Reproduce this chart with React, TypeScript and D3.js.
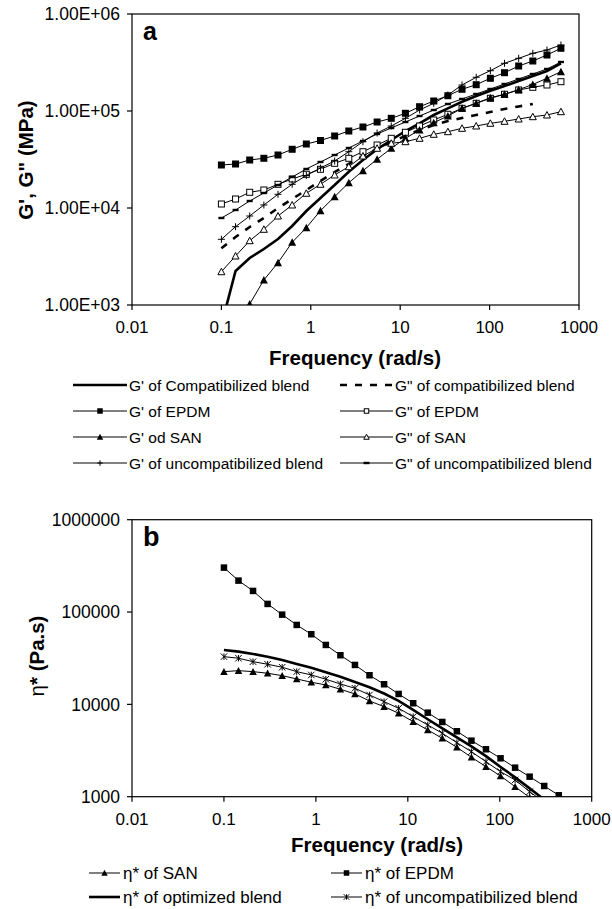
import React from "react";
import * as d3 from "d3";

// ---------- data ----------
const FREQ = [0.1, 0.144, 0.2073, 0.2985, 0.4298, 0.6189, 0.8912, 1.283, 1.848, 2.661, 3.831, 5.517, 7.944, 11.44, 16.47, 23.72, 34.15, 49.18, 70.81, 102.0, 146.8, 211.4, 304.4, 438.3, 628];

const X_TICKS = [0.01, 0.1, 1, 10, 100, 1000];
const X_TICK_LABELS = ["0.01", "0.1", "1", "10", "100", "1000"];
const TOP_Y_TICKS = [1e3, 1e4, 1e5, 1e6];
const TOP_Y_LABELS = ["1.00E+03", "1.00E+04", "1.00E+05", "1.00E+06"];
const BOT_Y_TICKS = [1e3, 1e4, 1e5, 1e6];
const BOT_Y_LABELS = ["1000", "10000", "100000", "1000000"];

// panel a: G' and G'' (MPa)
const G1_COMPAT = [622, 2241, 3051, 3779, 4791, 6522, 9314, 12680, 17260, 23670, 31250, 40300, 50230, 62210, 74680, 90930, 106600, 124700, 142800, 161900, 180900, 203900, 229500, 258400, 310300];
const G2_COMPAT = [3842, 5023, 6370, 7886, 10000, 12380, 15330, 18980, 23500, 28420, 34370, 40570, 47900, 55250, 63700, 71730, 78860, 84700, 90930, 97650, 104900, 111300, 118100, null, null];
const G1_EPDM = [27750, 28420, 31250, 32540, 35190, 40300, 45680, 49640, 55250, 62210, 68410, 77000, 84060, 94690, 110700, 126800, 143800, 167400, 186700, 217400, 248200, 290900, 327700, 377900, 443000];
const G2_EPDM = [10995, 12380, 14520, 15330, 17550, 19910, 22260, 25060, 28890, 32540, 38060, 44610, 52300, 60310, 70020, 80770, 92470, 106600, 120100, 135200, 148700, 164700, 175500, 185400, 200500];
const G1_SAN = [null, null, 1024, 1811, 2730, 4430, 6265, 9380, 13080, 18230, 24240, 31780, 41260, 52300, 63700, 75750, 88800, 106600, 120100, 137100, 148700, 166000, 188000, 217400, 254200];
const G2_SAN = [2204, 3200, 4601, 6031, 8270, 10740, 14180, 17550, 21890, 26660, 34370, 41260, 46450, 48250, 52300, 57520, 61190, 66320, 70020, 74680, 78310, 82700, 87360, 90930, 98360];
const G1_UNCOMP = [4756, 6416, 8270, 10740, 13840, 17550, 21640, 25840, 30510, 38060, 48250, 59320, 70020, 84060, 102400, 120100, 146200, 185400, 222600, 260300, 310300, 349400, 393400, 425600, 479100];
const G2_UNCOMP = [7886, 9537, 11810, 14280, 17260, 20870, 25250, 29810, 35190, 41550, 49060, 57940, 66800, 77000, 88800, 102400, 118100, 133000, 149700, 168600, 189800, 213800, 240700, 271000, 320100];

// panel b: complex viscosity (Pa.s)
const ETA_SAN = [22610, 23180, 22610, 21730, 20460, 18850, 17360, 16230, 14570, 12960, 10890, 9443, 8010, 6495, 5280, 4293, 3429, 2673, 2114, 1676, 1283, 980, null, null, null];
const ETA_EPDM = [302700, 218900, 169300, 122400, 93700, 72490, 57480, 44010, 34040, 26730, 20670, 16510, 12960, 10280, 8130, 6447, 5111, 4044, 3263, 2606, 2062, 1647, 1306, 1036, 830];
const ETA_OPT = [38860, 37240, 35160, 32870, 30270, 27400, 24900, 22300, 19900, 17500, 15300, 13100, 10900, 8700, 6900, 5500, 4400, 3500, 2750, 2100, 1620, 1230, 930, null, null];
const ETA_UNCOMP = [32870, 31590, 29010, 27200, 25230, 22610, 20830, 18710, 16630, 14940, 12650, 10700, 9073, 7357, 5981, 4862, 3846, 3072, 2394, 1866, 1517, 1133, 870, null, null];

const TOP_LEGEND = [
  "G' of Compatibilized blend",
  "G\" of compatibilized blend",
  "G' of EPDM",
  "G\" of EPDM",
  "G' od SAN",
  "G\" of SAN",
  "G' of uncompatibilized blend",
  "G\" of uncompatibilized blend",
];
const BOT_LEGEND = [
  "* of SAN",
  "* of EPDM",
  "* of optimized blend",
  "* of uncompatibilized blend",
];

// ---------- styles ----------
const FONT = "'Liberation Sans', Arial, Helvetica, sans-serif";

type Sty = { marker: string | null; width: number; dash?: string };

const TOP_SERIES: { vals: (number | null)[]; sty: Sty }[] = [
  { vals: G1_COMPAT, sty: { marker: null, width: 2.6 } },
  { vals: G2_COMPAT, sty: { marker: null, width: 2.6, dash: "7,8" } },
  { vals: G1_EPDM, sty: { marker: "sqF", width: 1 } },
  { vals: G2_EPDM, sty: { marker: "sqO", width: 1 } },
  { vals: G1_SAN, sty: { marker: "trF", width: 1 } },
  { vals: G2_SAN, sty: { marker: "trO", width: 1 } },
  { vals: G1_UNCOMP, sty: { marker: "plus", width: 1 } },
  { vals: G2_UNCOMP, sty: { marker: "dash", width: 1 } },
];
const BOT_SERIES: { vals: (number | null)[]; sty: Sty }[] = [
  { vals: ETA_SAN, sty: { marker: "trF", width: 1 } },
  { vals: ETA_EPDM, sty: { marker: "sqF", width: 1 } },
  { vals: ETA_OPT, sty: { marker: null, width: 2.6 } },
  { vals: ETA_UNCOMP, sty: { marker: "star", width: 1 } },
];

function Marker({ type, x, y, s }: { type: string; x: number; y: number; s: number }) {
  const h = s / 2;
  switch (type) {
    case "sqF":
      return <rect x={x - h} y={y - h} width={s} height={s} fill="#000" />;
    case "sqO":
      return <rect x={x - h + 0.5} y={y - h + 0.5} width={s - 1} height={s - 1} fill="#fff" stroke="#000" strokeWidth={1} />;
    case "trF":
      return <path d={`M${x},${y - h - 0.5}L${x + h + 0.5},${y + h}L${x - h - 0.5},${y + h}Z`} fill="#000" />;
    case "trO":
      return <path d={`M${x},${y - h}L${x + h},${y + h - 0.5}L${x - h},${y + h - 0.5}Z`} fill="#fff" stroke="#000" strokeWidth={1} />;
    case "plus":
      return (
        <g stroke="#000" strokeWidth={1}>
          <line x1={x - h} x2={x + h} y1={y} y2={y} />
          <line x1={x} x2={x} y1={y - h} y2={y + h} />
        </g>
      );
    case "dash":
      return <rect x={x - 3} y={y - 1.2} width={6} height={2.4} fill="#000" />;
    case "star":
      return (
        <g stroke="#000" strokeWidth={1}>
          <line x1={x - h} x2={x + h} y1={y - h} y2={y + h} />
          <line x1={x - h} x2={x + h} y1={y + h} y2={y - h} />
          <line x1={x} x2={x} y1={y - h} y2={y + h} />
        </g>
      );
    default:
      return null;
  }
}

function Panel({
  id, left, right, top, bottom, series, yTicks, yLabels, markerSize, tickFont, letter, letterSize,
}: any) {
  const x = d3.scaleLog().domain([0.01, 1000]).range([left, right]);
  const y = d3.scaleLog().domain([1e3, 1e6]).range([bottom, top]);
  const line = d3
    .line<{ f: number; v: number | null }>()
    .defined((d) => d.v != null)
    .x((d) => x(d.f))
    .y((d) => y(d.v as number));
  return (
    <g>
      <defs>
        <clipPath id={id}>
          <rect x={left} y={top} width={right - left} height={bottom - top} />
        </clipPath>
      </defs>
      <rect x={left} y={top} width={right - left} height={bottom - top} fill="none" stroke="#000" strokeWidth={1.2} />
      {X_TICKS.map((t, i) => (
        <g key={"xt" + i}>
          <line x1={x(t)} x2={x(t)} y1={bottom} y2={bottom + 5} stroke="#000" strokeWidth={1.2} />
          <text x={x(t)} y={bottom + 28} fontSize={tickFont} textAnchor="middle" fontFamily={FONT} fill="#000">
            {X_TICK_LABELS[i]}
          </text>
        </g>
      ))}
      {yTicks.map((t: number, i: number) => (
        <g key={"yt" + i}>
          <line x1={left - 5} x2={left} y1={y(t)} y2={y(t)} stroke="#000" strokeWidth={1.2} />
          <text x={left - 12} y={y(t)} dy="0.36em" fontSize={17.5} textAnchor="end" fontFamily={FONT} fill="#000">
            {yLabels[i]}
          </text>
        </g>
      ))}
      <g clipPath={`url(#${id})`}>
        {series.map((s: any, si: number) => {
          const pts = FREQ.map((f, i) => ({ f, v: s.vals[i] }));
          return (
            <g key={"s" + si}>
              <path d={line(pts) || ""} fill="none" stroke="#000" strokeWidth={s.sty.width} strokeDasharray={s.sty.dash} />
              {s.sty.marker &&
                pts
                  .filter((p) => p.v != null && p.v >= 1e3 * 0.98)
                  .map((p, i) => <Marker key={i} type={s.sty.marker} x={x(p.f)} y={y(p.v as number)} s={markerSize} />)}
            </g>
          );
        })}
      </g>
      <text x={left + 11} y={top + 26} fontSize={letterSize} fontWeight="bold" fontFamily={FONT}>
        {letter}
      </text>
    </g>
  );
}

export default function App() {
  return (
    <svg width={612} height={909} style={{ position: "absolute", left: 0, top: 0, background: "#fff" }} fontFamily={FONT}>
      <rect x={0} y={0} width={612} height={909} fill="#fff" />
      <Panel id="clipA" left={132} right={579} top={14} bottom={305} series={TOP_SERIES}
        yTicks={TOP_Y_TICKS} yLabels={TOP_Y_LABELS} markerSize={7} tickFont={17} letter="a" letterSize={25} />
      <text transform="translate(33,160) rotate(-90)" fontSize={20.5} fontWeight="bold" textAnchor="middle" fontFamily={FONT}>
        G', G" (MPa)
      </text>
      <text x={355} y={365} fontSize={20.5} fontWeight="bold" textAnchor="middle" fontFamily={FONT}>
        Frequency (rad/s)
      </text>
      {TOP_LEGEND.map((t, i) => {
        const col = i % 2;
        const row = Math.floor(i / 2);
        const cy = 385 + row * 26;
        const x0 = col === 0 ? 73 : 340;
        const x1 = col === 0 ? 127 : 393;
        const s = TOP_SERIES[i].sty;
        return (
          <g key={"tl" + i}>
            <line x1={x0} x2={x1} y1={cy} y2={cy} stroke="#000" strokeWidth={s.width} strokeDasharray={s.dash} />
            {s.marker && <Marker type={s.marker} x={(x0 + x1) / 2} y={cy} s={5.5} />}
            <text x={x1 + 2} y={cy} dy="0.36em" fontSize={15.5} fontFamily={FONT}>{t}</text>
          </g>
        );
      })}

      <Panel id="clipB" left={132} right={591.7} top={519.7} bottom={796.7} series={BOT_SERIES}
        yTicks={BOT_Y_TICKS} yLabels={BOT_Y_LABELS} markerSize={6.5} tickFont={17} letter="b" letterSize={27} />
      <text transform="translate(44,656) rotate(-90)" fontSize={20.5} textAnchor="middle" fontFamily={FONT}>
        <tspan>η</tspan>
        <tspan fontWeight="bold">* (Pa.s)</tspan>
      </text>
      <text x={377} y={852} fontSize={20.5} fontWeight="bold" textAnchor="middle" fontFamily={FONT}>
        Frequency (rad/s)
      </text>
      {BOT_LEGEND.map((t, i) => {
        const col = i % 2;
        const row = Math.floor(i / 2);
        const cy = 873 + row * 24;
        const x0 = col === 0 ? 89 : 331;
        const x1 = col === 0 ? 120 : 362;
        const s = BOT_SERIES[i].sty;
        return (
          <g key={"bl" + i}>
            <line x1={x0} x2={x1} y1={cy} y2={cy} stroke="#000" strokeWidth={s.width} />
            {s.marker && <Marker type={s.marker} x={(x0 + x1) / 2} y={cy} s={5.5} />}
            <text x={x1 + 3} y={cy} dy="0.36em" fontSize={17} fontFamily={FONT}>
              <tspan>η</tspan>
              <tspan>{t}</tspan>
            </text>
          </g>
        );
      })}
    </svg>
  );
}
